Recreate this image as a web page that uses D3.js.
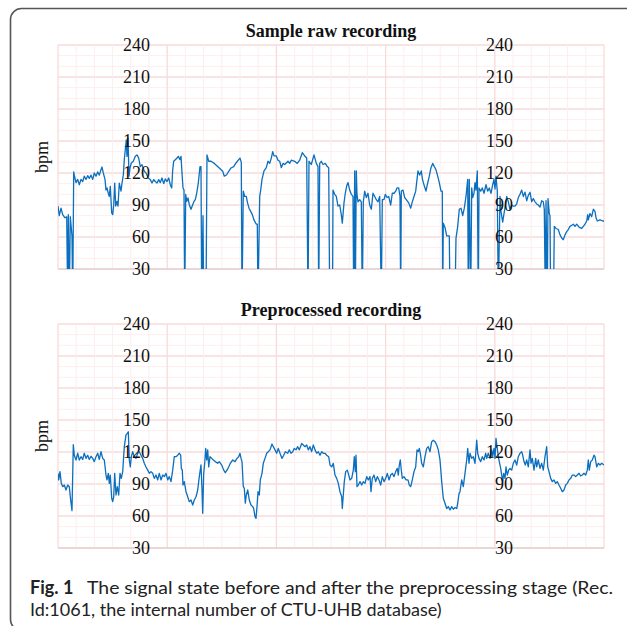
<!DOCTYPE html>
<html>
<head>
<meta charset="utf-8">
<script src="https://cdn.jsdelivr.net/npm/d3@7"></script>
<style>
  html, body { margin: 0; padding: 0; background: #fff; }
  svg { display: block; }
</style>
</head>
<body>
<div id="chart"></div>
<script>
// DATA (sample index, bpm); 0 = signal loss
const rawSignal = [
  [0,89],[1.3,80],[3,87],[4.7,81],[7,78],[8.7,79],[9.7,0],[10.3,81],[11.3,0],[12.3,79],[14,61],[14.7,0],
  [15.7,121],[16.3,118],[18,111],[19.7,114],[21.3,109],[23,114],[24.7,112],[26.3,117],[28,114],[29.7,117.5],
  [31.3,115],[33,118],[34.7,114],[36.3,120],[38,117],[39.7,121],[41.3,118],[43,123],[44,125.6],[45.3,120],
  [47,114],[48,104],[49,106],[50.3,101],[51.3,98],[52.3,107.5],[53.7,82.5],[54.7,81],[55.7,90],[56.7,110.6],
  [57.7,89],[59,93.4],[60,89],[61.3,110.6],[63,103],[64,110.6],[65.3,118],[66.3,132.5],[67.3,142],[68.3,151],
  [69,135.6],[70,152.8],[71,117],[72,124.7],[73.3,129.4],[75.3,131],[77.3,135.6],[79,137],[80.7,134],[82.3,126],
  [84,127.8],[86.3,121.6],[88,120],[90.3,115.3],[92.3,113.8],[94,110.6],[95.7,113.8],[97.3,112],[99,110.6],
  [100.7,113.8],[102.3,111],[104,115.3],[105.7,110],[107.3,114.4],[109,112],[110.7,115.3],[112.3,109],[113.7,106],
  [114.7,123],[115.7,131],[117.3,132.5],[119,134],[120.3,135.6],[122,132.5],[123,135.6],[124,120],[125,106],
  [126,104],[126.7,0],[127.7,100],[128.7,93.4],[130,96.6],[131.3,90.3],[133,86],[134.7,90.3],[136,93.4],
  [137.3,95],[138.7,101],[140.3,110.6],[142,126],[143,126],[143.7,0],[145,80],[145.7,0],[148,0],[149,137],
  [150.7,131],[153,131],[156.3,129],[161.3,124.7],[164.7,121.6],[166.3,117],[168.7,118.4],[170.7,121.6],[173,124.7],
  [175.7,126],[178,129.4],[180.7,132.5],[182,134],[183.3,130],[184,0],[185.3,103],[186.7,98],[188.3,98],
  [189.3,93],[191,87],[192.7,84],[194.3,81],[196,76],[198.3,72],[199.3,72],[200,0],[201.7,98],[202.7,104],
  [204,114],[206,122],[208.3,125],[210,131],[211.7,129],[213.3,134],[214.7,140],[216,136],[218.3,136],[220,132],
  [221.7,131],[223.3,125],[225,129],[226.7,128],[230,131],[231.7,129],[233.3,132],[236.7,131],[239.3,129],
  [241.7,132],[244.3,139],[246.7,136],[248.7,134],[250,0],[251,131],[253.3,128],[256,137],[258.3,129],[260,126],
  [260.7,0],[261.7,129],[263.3,131],[265,128],[267.3,129],[269.3,126],[270.7,125],[271.7,0],[274.5,0],[275,104],
  [276.7,100],[278.3,98],[280,89],[281.7,90],[283.3,81],[284.3,73],[286,92],[287.3,101],[288.7,108],[290,111],
  [291.7,104],[293.3,100],[295,98],[295.7,0],[296.7,122],[297.3,0],[298.3,122],[299,100],[300,93],[301.7,95],
  [303.3,93],[304.3,0],[305.3,93],[306.7,103],[308.3,97],[310,101],[311.7,90],[313.3,86],[315,101],[316.7,98],
  [318.3,95],[320,93],[321.7,98],[323.3,0],[324.3,95],[326,95],[327.3,100],[329,97],[330.7,98],[332.7,90],
  [334.3,101],[336,101],[337.7,103],[339,106],[340.7,106],[342,98],[342.7,0],[343.3,103],[345,104],[346.7,97],
  [348.3,95],[350.7,92],[352.7,87],[354,92],[356,98],[357.7,103],[359,114],[360,122],[361.7,118],[363.3,122],
  [364.3,115],[365.3,111],[367,106],[368,103],[369.3,109],[371.3,117],[373,125],[374.7,129],[376.3,126],[378,123],
  [379.7,117],[381.3,111],[383,103],[384.3,103],[384.7,0],[385.3,73],[387,69],[388.7,61],[391.3,61],[392,0],
  [397,0],[398,59],[399.7,70],[401.3,86],[403,87],[404.7,80],[406.3,87],[408,98],[409.7,114],[410.3,0],
  [411.3,114],[412.7,0],[413.7,106],[414.7,97],[416,101],[417,111],[418,104],[419.3,122],[420.3,0],[421,106],
  [422.7,103],[424.3,106],[426,101],[428,109],[429.7,103],[431.3,106],[433,101],[434.7,109],[436,114],[437,105],
  [438,117],[439.3,103],[440.3,0],[442,98],[443,84],[444.7,74],[446,82],[447.3,89],[448.7,98],[450.3,93],
  [452,86],[453.7,90],[455.3,89],[457,89],[458.7,91],[460.3,97],[462,100],[463.7,104],[465.3,98],[467,102],
  [468.7,94],[470.3,99],[472,102],[473.7,93],[475.3,96],[477,93],[478.7,91],[480.3,90],[482,88],[483.7,94],
  [485.3,93],[486.3,86],[487.3,0],[488,94],[489.3,0],[490,96],[491.3,82],[492,80],[492.7,0],[495.5,0],
  [496.3,70],[498,68],[500.3,67],[502,62],[503.7,59],[505.3,57.5],[507,62],[508.7,65],[510.3,67],[512,70],
  [513.7,71],[515.3,72],[517,70],[518.7,72],[521.3,69],[523.7,68],[525.3,70],[527,72],[528.7,75],[529.7,81],
  [530.3,76],[532,82],[533.7,79],[535.3,86],[537,84],[538,78],[539.3,75],[542,76],[544.7,75],[546,75]
];

const cleanSignal = [
  [0,100],[0.7,93.8],[2,101.6],[3.3,90.6],[4.7,87.5],[6.3,89],[8,84.4],[9.7,89],[11.3,87.5],[12.3,78],[14,65],
  [15.3,127],[16.3,117],[18,112.5],[19.7,118.8],[21.3,112.5],[23,115.6],[24.7,113],[26.3,118.8],[28,114],
  [29.7,117],[31.3,113],[33,116],[34.7,114],[36.3,111],[38,115.6],[39.7,118.8],[41.3,113],[43,120.3],[44.7,114],
  [46.3,112.5],[48,98.4],[49,93.8],[50.3,100],[51.3,90.6],[52.3,98.4],[53.7,76.6],[54.7,73.4],[55.7,78],
  [56.7,100],[58,79.7],[59.3,87.5],[60.7,79.7],[62,100],[63.3,95.3],[64.7,101.6],[66.3,125],[68,136],
  [69.3,137.5],[70.3,139],[71.3,112.5],[72.3,106],[73.3,115.6],[74.7,120.3],[76.3,115.6],[78,114],[79.7,118.8],
  [81.3,120.3],[83,117],[84.7,114],[86.3,109.4],[88,106],[89.7,103],[91.3,100],[93,101.6],[94.7,100],[96.3,95.3],
  [98,98.4],[99.7,93.8],[101.3,100],[103,93.8],[104.7,98.4],[106.3,96.9],[108,100],[109.7,93.8],[111.3,96.9],
  [113,92.2],[114.7,103],[116.3,115.6],[118,115.6],[119.7,117],[121.3,118.8],[122.7,117],[123.3,104.7],
  [124.3,103],[125,89],[126.3,92.2],[128,82.8],[129.7,78],[131.3,73.4],[133,75],[134.7,70.3],[136.3,75],
  [138,78],[139.7,84.4],[141.3,96.9],[143,108],[144,84.4],[144.7,62.5],[145.7,100],[146.7,109.4],[147.7,123.4],
  [148.7,112.5],[149.7,122],[150.7,106],[152,115.6],[153.7,114],[155.3,112.5],[157.3,111],[159.7,109.4],
  [161.3,111],[163.7,107.8],[165.7,103],[167.3,100.6],[169,103],[170.7,106],[172.3,109.4],[174.7,112.5],
  [177,111],[179,114],[180.7,115.6],[182,118.8],[183,114],[184,111],[185.3,87.5],[186.3,86],[187.3,72],
  [188.3,79.7],[189.7,84.4],[191.3,75],[193,70.3],[194.7,68.8],[195.7,67],[197,59.4],[198,57.8],[199,68.8],
  [200,82.8],[201.3,79.7],[202.3,93.8],[204,100],[205.3,109.4],[207,114],[208.7,118.8],[210.3,120.3],[212,122],
  [214,127.5],[215.3,125],[217,122],[218.7,118.8],[220.3,123.4],[222,118.8],[224,114],[225.7,117],[227.3,120.3],
  [229.7,118.8],[231.3,122],[233,118.8],[234.7,120.3],[236.3,123.4],[238,122],[239.7,125],[241.3,122],
  [243.7,128],[245.3,126.6],[247,125],[248.7,126.6],[250.3,122],[252,125],[253.7,120.3],[255.3,126.6],[257,122],
  [258.7,118.8],[260.3,120.3],[262,117],[263.7,120.3],[265.3,118.8],[267,118.8],[268.7,117],[270.7,115.6],
  [272,107.8],[273.7,106],[275.3,109.4],[277,98.4],[278.7,95.3],[280.3,90.6],[282,82.8],[283.7,78],[284.3,67],
  [285.3,79.7],[286.3,92.2],[287.7,101.6],[289.3,103],[290.3,100],[292,93.8],[293.7,95.3],[295.3,103],
  [296.3,115.6],[297.3,101.6],[298,117],[299,87.5],[300.3,89],[302,92.2],[303.7,89],[305.3,92.2],[307,90.6],
  [308.7,96.9],[310.3,93.8],[312,96.9],[313,82.8],[314.3,95.3],[316,98.4],[317.7,92.2],[319.3,96.9],[321,93.8],
  [322.7,89],[324.3,96.9],[326,92.2],[327.7,95.3],[329.3,100],[331,93.8],[332.7,98.4],[334.3,100],[336,96.9],
  [337.7,101.6],[339.3,104.7],[340.3,98.4],[341.3,107.8],[342.3,112.5],[343.3,103],[344.3,95.3],[346,96.9],
  [348,93.8],[350,93.8],[351.3,89],[352.7,87.5],[354.3,93.8],[356,101.6],[357.7,106],[359,121.9],[360.3,120.3],
  [361.3,123.4],[362.3,118.8],[363.7,109.4],[365.3,106],[367,115.6],[368.7,123.4],[370.3,125],[372,120.3],
  [373.7,129.7],[375.3,131],[377,129.7],[378.7,126.6],[380.3,122],[382,112.5],[383.7,92.2],[385.3,76.6],
  [387,71.9],[388.7,67],[390.3,68.8],[392,65.6],[393.7,68.8],[395.3,66.3],[397,68],[398.7,67],[399.7,71.9],
  [401,81],[402,82.8],[403.7,93.8],[405.3,87.5],[407,100],[408.7,112.5],[409.7,123.4],[411,109.4],[412,118.8],
  [413.7,114],[415.3,115.6],[417,109.4],[418.7,131],[419.7,118.8],[421,114],[422.7,111],[424.3,115.6],[426,112.5],
  [427.7,118.8],[428.7,114],[430.3,118.8],[432,114],[433.7,122],[434.7,115.6],[436,123.4],[437,114],[438,132.8],
  [439,125],[440.3,115.6],[441.3,111],[442.7,104.7],[443.7,98.4],[444.7,92.2],[445.7,100],[447,95.3],[448,106],
  [449.3,98.4],[450.7,103],[452,104.7],[453.7,103],[455.3,109.4],[457,112.5],[458.7,107.8],[460.3,115.6],
  [462,118.8],[463.7,120.3],[464.7,117],[466,111],[467.3,107.8],[468.7,112.5],[470.3,106],[472,122],[473,109.4],
  [474.3,114],[476,103],[477.7,114],[478.7,106],[480.3,112.5],[482,104.7],[483.7,109.4],[485.3,103],[487,115.6],
  [488.7,125],[489.7,106],[491,101.6],[492.7,95.3],[494.3,92.2],[496,93.8],[497.7,90.6],[499.3,92.2],[501,89],
  [502.7,86],[504.3,82.8],[506,84.4],[507.7,89],[509.3,90.6],[511,93.8],[512.7,95.3],[514.3,98.4],[516,98.4],
  [517.7,96.9],[519.3,98.4],[521,100],[522.7,97.5],[524.3,98.4],[526,100],[527.7,98.4],[529.3,103],[530.3,112.5],
  [531.3,103],[532.7,111],[534.3,112.5],[536,117],[537,115.6],[538.7,106],[540.3,109.4],[542,107.8],[543.7,109.4],
  [546,107.8]
];

const panelTitles = ["Sample raw recording", "Preprocessed recording"];
const yTicks = [30, 60, 90, 120, 150, 180, 210, 240];
const yMinor = d3.range(30, 241, 10);
const xSamples = 546;
const captionBold = "Fig. 1";
const captionLine1 = "The signal state before and after the preprocessing stage (Rec.";
const captionLine2 = "Id:1061, the internal number of CTU-UHB database)";

// --- LAYOUT ---
const W = 627, H = 626;
const plotLeft = 58, plotRight = 604, plotH = 224;
const panelTops = [45, 324];
const lineColor = "#0a6fbf";
const serif = "'Liberation Serif', 'Times New Roman', serif";

const svg = d3.select("#chart").append("svg")
    .attr("width", W)
    .attr("height", H);

// rounded frame, runs off the right and bottom edges
svg.append("rect")
    .attr("x", 10.5).attr("y", 8.5)
    .attr("width", 660).attr("height", 622)
    .attr("rx", 11)
    .attr("fill", "none")
    .attr("stroke", "#555")
    .attr("stroke-width", 1.6);

const x = d3.scaleLinear().domain([0, xSamples]).range([plotLeft, plotRight]);
const xMinor = d3.range(0, 31).map(i => i * xSamples / 30);

function drawPanel(top, title, data, idx) {
    const y = d3.scaleLinear().domain([30, 240]).range([top + plotH, top]);
    const g = svg.append("g");

    // grid: minor every 10 bpm / 1/30 of width, major every 30 bpm / 1/5 of width
    g.selectAll(".hmin").data(yMinor).enter().append("line")
        .attr("x1", plotLeft).attr("x2", plotRight)
        .attr("y1", d => y(d)).attr("y2", d => y(d))
        .attr("stroke", d => d % 30 === 0 ? "#f9dada" : "#fdeeee")
        .attr("stroke-width", d => d % 30 === 0 ? 1.3 : 1);
    g.selectAll(".vmin").data(xMinor).enter().append("line")
        .attr("x1", d => x(d)).attr("x2", d => x(d))
        .attr("y1", top).attr("y2", top + plotH)
        .attr("stroke", (d, i) => i % 6 === 0 ? "#f9dada" : "#fdeeee")
        .attr("stroke-width", (d, i) => i % 6 === 0 ? 1.3 : 1);

    // bottom axis line
    g.append("line")
        .attr("x1", plotLeft).attr("x2", plotRight)
        .attr("y1", top + plotH).attr("y2", top + plotH)
        .attr("stroke", "#e6d0d0").attr("stroke-width", 1.3);

    // clip for signal
    svg.append("clipPath").attr("id", "clip" + idx)
        .append("rect")
        .attr("x", plotLeft).attr("y", top)
        .attr("width", plotRight - plotLeft).attr("height", plotH);

    const line = d3.line()
        .x(d => x(d[0]))
        .y(d => y(d[1]));

    g.append("path")
        .datum(data)
        .attr("clip-path", `url(#clip${idx})`)
        .attr("d", line)
        .attr("fill", "none")
        .attr("stroke", lineColor)
        .attr("stroke-width", 1.3)
        .attr("stroke-linejoin", "round");

    // two y label columns (drawn inside the plot)
    [153, 516].forEach(ax => {
        const axis = g.append("g")
            .attr("transform", `translate(${ax},0)`)
            .call(d3.axisLeft(y).tickValues(yTicks).tickSize(0).tickPadding(3));
        axis.select(".domain").remove();
        axis.selectAll("text")
            .attr("font-family", serif)
            .attr("font-size", 18)
            .attr("fill", "#111");
    });

    // y title
    g.append("text")
        .attr("transform", `translate(48,${top + plotH / 2}) rotate(-90)`)
        .attr("text-anchor", "middle")
        .attr("font-family", serif)
        .attr("font-size", 18)
        .attr("fill", "#111")
        .text("bpm");

    // panel title
    g.append("text")
        .attr("x", (plotLeft + plotRight) / 2)
        .attr("y", top - 8)
        .attr("text-anchor", "middle")
        .attr("font-family", serif)
        .attr("font-weight", "bold")
        .attr("font-size", 18)
        .attr("fill", "#111")
        .text(title);
}

drawPanel(panelTops[0], panelTitles[0], rawSignal, 0);
drawPanel(panelTops[1], panelTitles[1], cleanSignal, 1);

// --- CAPTION ---
const cap = svg.append("g")
    .attr("font-family", "Lato, 'Open Sans', sans-serif")
    .attr("font-size", 18)
    .attr("fill", "#222");

cap.append("text").attr("x", 30).attr("y", 594)
    .attr("font-weight", "bold")
    .text(captionBold);
cap.append("text").attr("x", 87).attr("y", 594)
    .attr("textLength", 526)
    .attr("lengthAdjust", "spacingAndGlyphs")
    .text(captionLine1);
cap.append("text").attr("x", 30).attr("y", 616)
    .text(captionLine2);
</script>
</body>
</html>
